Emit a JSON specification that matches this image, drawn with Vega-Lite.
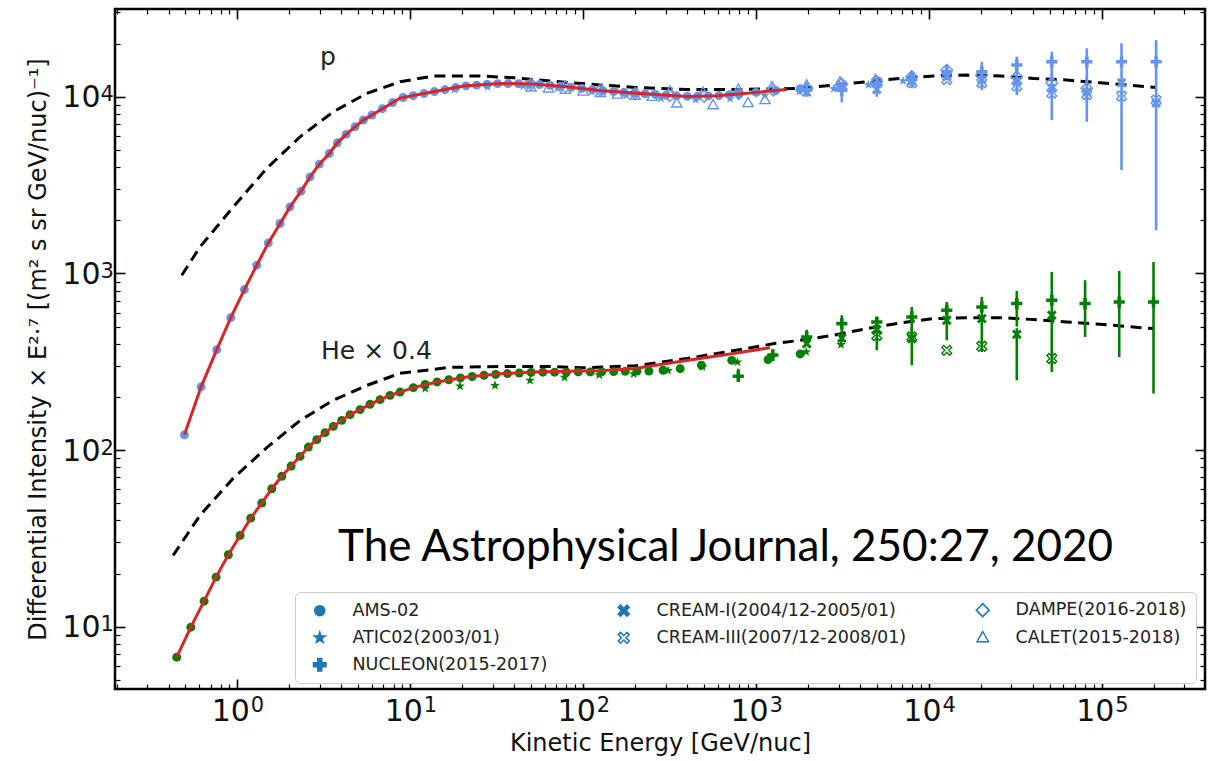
{
  "$schema": "https://vega.github.io/schema/vega-lite/v6.json",
  "width": 1090,
  "height": 680,
  "autosize": {"type": "none"},
  "padding": {"left": 115, "top": 9, "right": 5, "bottom": 72},
  "background": "white",
  "config": {
    "view": {"stroke": "black", "strokeWidth": 2.5},
    "font": "DejaVu Sans",
    "axis": {"domain": false, "grid": false, "labelFont": "DejaVu Sans", "labelColor": "#111111", "tickColor": "black", "labelOverlap": false, "labelFlush": false, "titleFont": "DejaVu Sans", "titleColor": "#111111", "titleFontWeight": "normal"}
  },
  "datasets": {
    "model": [
      {"species": "p", "E": 0.477, "I": 977}, {"species": "p", "E": 0.608, "I": 1413}, {"species": "p", "E": 0.948, "I": 2381},
      {"species": "p", "E": 1.479, "I": 3930}, {"species": "p", "E": 2.305, "I": 5937}, {"species": "p", "E": 3.591, "I": 8223},
      {"species": "p", "E": 5.603, "I": 10450}, {"species": "p", "E": 8.73, "I": 12160}, {"species": "p", "E": 13.6, "I": 13100},
      {"species": "p", "E": 26.5, "I": 13100}, {"species": "p", "E": 40, "I": 12800}, {"species": "p", "E": 70, "I": 12200},
      {"species": "p", "E": 120, "I": 11700}, {"species": "p", "E": 200, "I": 11300}, {"species": "p", "E": 400, "I": 11000},
      {"species": "p", "E": 800, "I": 11000}, {"species": "p", "E": 1800, "I": 11160}, {"species": "p", "E": 2800, "I": 11640},
      {"species": "p", "E": 4370, "I": 12160}, {"species": "p", "E": 6800, "I": 12710}, {"species": "p", "E": 10600, "I": 13100},
      {"species": "p", "E": 16540, "I": 13270}, {"species": "p", "E": 25760, "I": 13100}, {"species": "p", "E": 40200, "I": 12710},
      {"species": "p", "E": 62700, "I": 12440}, {"species": "p", "E": 97700, "I": 12000}, {"species": "p", "E": 206000, "I": 11300},
      {"species": "He", "E": 0.4247, "I": 25.3}, {"species": "He", "E": 0.608, "I": 42.7}, {"species": "He", "E": 0.944, "I": 69.1},
      {"species": "He", "E": 1.485, "I": 103.6}, {"species": "He", "E": 2.305, "I": 147}, {"species": "He", "E": 3.577, "I": 191},
      {"species": "He", "E": 5.626, "I": 232.6}, {"species": "He", "E": 8.73, "I": 272}, {"species": "He", "E": 17, "I": 294},
      {"species": "He", "E": 33, "I": 297}, {"species": "He", "E": 64.4, "I": 297}, {"species": "He", "E": 100, "I": 292},
      {"species": "He", "E": 200, "I": 300}, {"species": "He", "E": 400, "I": 330}, {"species": "He", "E": 800, "I": 370},
      {"species": "He", "E": 1300, "I": 402}, {"species": "He", "E": 1800, "I": 418}, {"species": "He", "E": 2800, "I": 447},
      {"species": "He", "E": 4370, "I": 487}, {"species": "He", "E": 6800, "I": 524}, {"species": "He", "E": 10600, "I": 555},
      {"species": "He", "E": 16540, "I": 562}, {"species": "He", "E": 25760, "I": 562}, {"species": "He", "E": 40200, "I": 548},
      {"species": "He", "E": 62700, "I": 531}, {"species": "He", "E": 97700, "I": 515}, {"species": "He", "E": 200000, "I": 487}
    ],
    "fit": [
      {"species": "p", "E": 0.494, "I": 122}, {"species": "p", "E": 0.617, "I": 228}, {"species": "p", "E": 0.76, "I": 370},
      {"species": "p", "E": 0.916, "I": 562}, {"species": "p", "E": 1.098, "I": 810}, {"species": "p", "E": 1.295, "I": 1113},
      {"species": "p", "E": 1.511, "I": 1489}, {"species": "p", "E": 1.766, "I": 1917}, {"species": "p", "E": 2.018, "I": 2381},
      {"species": "p", "E": 2.335, "I": 2922}, {"species": "p", "E": 2.634, "I": 3521}, {"species": "p", "E": 2.981, "I": 4157},
      {"species": "p", "E": 3.405, "I": 4778}, {"species": "p", "E": 3.788, "I": 5488}, {"species": "p", "E": 4.254, "I": 6124},
      {"species": "p", "E": 4.796, "I": 6761}, {"species": "p", "E": 5.356, "I": 7380}, {"species": "p", "E": 6.5, "I": 8260},
      {"species": "p", "E": 8.73, "I": 9830}, {"species": "p", "E": 13.6, "I": 10670}, {"species": "p", "E": 20.3, "I": 11500},
      {"species": "p", "E": 33, "I": 11900}, {"species": "p", "E": 51.5, "I": 11800}, {"species": "p", "E": 80, "I": 11400},
      {"species": "p", "E": 125, "I": 10850}, {"species": "p", "E": 195, "I": 10500}, {"species": "p", "E": 304, "I": 10200},
      {"species": "p", "E": 400, "I": 10050}, {"species": "p", "E": 600, "I": 10150}, {"species": "p", "E": 920, "I": 10500},
      {"species": "p", "E": 1500, "I": 11000},
      {"species": "He", "E": 0.446, "I": 6.72}, {"species": "He", "E": 0.538, "I": 9.94}, {"species": "He", "E": 0.642, "I": 13.95},
      {"species": "He", "E": 0.753, "I": 19.08}, {"species": "He", "E": 0.887, "I": 25.56}, {"species": "He", "E": 1.037, "I": 32.87},
      {"species": "He", "E": 1.195, "I": 41.18}, {"species": "He", "E": 1.384, "I": 50.1}, {"species": "He", "E": 1.581, "I": 60.4},
      {"species": "He", "E": 1.807, "I": 71.0}, {"species": "He", "E": 2.045, "I": 81.2}, {"species": "He", "E": 2.305, "I": 92.1},
      {"species": "He", "E": 2.574, "I": 104}, {"species": "He", "E": 2.879, "I": 114.5}, {"species": "He", "E": 3.216, "I": 125.5},
      {"species": "He", "E": 3.591, "I": 136.2}, {"species": "He", "E": 4.016, "I": 147.3}, {"species": "He", "E": 4.486, "I": 158.7},
      {"species": "He", "E": 5.126, "I": 169.4}, {"species": "He", "E": 5.855, "I": 181.5}, {"species": "He", "E": 6.69, "I": 193},
      {"species": "He", "E": 7.64, "I": 204}, {"species": "He", "E": 8.73, "I": 213}, {"species": "He", "E": 10.42, "I": 225.7},
      {"species": "He", "E": 14.3, "I": 243}, {"species": "He", "E": 21.2, "I": 259}, {"species": "He", "E": 33, "I": 270},
      {"species": "He", "E": 51.5, "I": 277}, {"species": "He", "E": 80, "I": 279}, {"species": "He", "E": 125, "I": 281},
      {"species": "He", "E": 195, "I": 289}, {"species": "He", "E": 304, "I": 309}, {"species": "He", "E": 474, "I": 330},
      {"species": "He", "E": 739, "I": 352}, {"species": "He", "E": 1205, "I": 380}
    ],
    "obs": [
      {"species": "p", "exp": "AMS-02", "E": 0.494, "I": 122}, {"species": "p", "exp": "AMS-02", "E": 0.617, "I": 228},
      {"species": "p", "exp": "AMS-02", "E": 0.76, "I": 370}, {"species": "p", "exp": "AMS-02", "E": 0.916, "I": 562},
      {"species": "p", "exp": "AMS-02", "E": 1.098, "I": 810}, {"species": "p", "exp": "AMS-02", "E": 1.295, "I": 1113},
      {"species": "p", "exp": "AMS-02", "E": 1.511, "I": 1489}, {"species": "p", "exp": "AMS-02", "E": 1.766, "I": 1917},
      {"species": "p", "exp": "AMS-02", "E": 2.018, "I": 2381}, {"species": "p", "exp": "AMS-02", "E": 2.335, "I": 2922},
      {"species": "p", "exp": "AMS-02", "E": 2.634, "I": 3521}, {"species": "p", "exp": "AMS-02", "E": 2.981, "I": 4157},
      {"species": "p", "exp": "AMS-02", "E": 3.405, "I": 4778}, {"species": "p", "exp": "AMS-02", "E": 3.788, "I": 5488},
      {"species": "p", "exp": "AMS-02", "E": 4.254, "I": 6124}, {"species": "p", "exp": "AMS-02", "E": 4.796, "I": 6761},
      {"species": "p", "exp": "AMS-02", "E": 5.356, "I": 7380}, {"species": "p", "exp": "AMS-02", "E": 6.0, "I": 7885},
      {"species": "p", "exp": "AMS-02", "E": 6.9, "I": 8564}, {"species": "p", "exp": "AMS-02", "E": 7.9, "I": 9270},
      {"species": "p", "exp": "AMS-02", "E": 9.1, "I": 9906}, {"species": "p", "exp": "AMS-02", "E": 10.4, "I": 10155},
      {"species": "p", "exp": "AMS-02", "E": 12, "I": 10425}, {"species": "p", "exp": "AMS-02", "E": 13.8, "I": 10700},
      {"species": "p", "exp": "AMS-02", "E": 15.9, "I": 10990}, {"species": "p", "exp": "AMS-02", "E": 18.3, "I": 11280},
      {"species": "p", "exp": "AMS-02", "E": 21, "I": 11530}, {"species": "p", "exp": "AMS-02", "E": 24.2, "I": 11640},
      {"species": "p", "exp": "AMS-02", "E": 27.8, "I": 11760}, {"species": "p", "exp": "AMS-02", "E": 32, "I": 11870},
      {"species": "p", "exp": "AMS-02", "E": 36.8, "I": 11875}, {"species": "p", "exp": "AMS-02", "E": 42.3, "I": 11850},
      {"species": "p", "exp": "AMS-02", "E": 48.7, "I": 11815}, {"species": "p", "exp": "AMS-02", "E": 56, "I": 11730},
      {"species": "p", "exp": "AMS-02", "E": 64.4, "I": 11600}, {"species": "p", "exp": "AMS-02", "E": 74, "I": 11480},
      {"species": "p", "exp": "AMS-02", "E": 85, "I": 11320}, {"species": "p", "exp": "AMS-02", "E": 98, "I": 11150},
      {"species": "p", "exp": "AMS-02", "E": 113, "I": 10970}, {"species": "p", "exp": "AMS-02", "E": 130, "I": 10820},
      {"species": "p", "exp": "AMS-02", "E": 150, "I": 10700}, {"species": "p", "exp": "AMS-02", "E": 172, "I": 10600},
      {"species": "p", "exp": "AMS-02", "E": 198, "I": 10490}, {"species": "p", "exp": "AMS-02", "E": 228, "I": 10400},
      {"species": "p", "exp": "AMS-02", "E": 262, "I": 10300}, {"species": "p", "exp": "AMS-02", "E": 302, "I": 10205},
      {"species": "p", "exp": "AMS-02", "E": 347, "I": 10130}, {"species": "p", "exp": "AMS-02", "E": 400, "I": 10050},
      {"species": "p", "exp": "AMS-02", "E": 460, "I": 10085}, {"species": "p", "exp": "AMS-02", "E": 530, "I": 10120},
      {"species": "p", "exp": "AMS-02", "E": 610, "I": 10160}, {"species": "p", "exp": "AMS-02", "E": 700, "I": 10275},
      {"species": "p", "exp": "AMS-02", "E": 800, "I": 10380}, {"species": "p", "exp": "AMS-02", "E": 1000, "I": 10580},
      {"species": "p", "exp": "AMS-02", "E": 1300, "I": 10850}, {"species": "p", "exp": "AMS-02", "E": 1800, "I": 11100},

      {"species": "p", "exp": "ATIC02(2003/01)", "E": 18, "I": 11000}, {"species": "p", "exp": "ATIC02(2003/01)", "E": 28, "I": 11400},
      {"species": "p", "exp": "ATIC02(2003/01)", "E": 45, "I": 11500}, {"species": "p", "exp": "ATIC02(2003/01)", "E": 71, "I": 11200},
      {"species": "p", "exp": "ATIC02(2003/01)", "E": 112, "I": 10700}, {"species": "p", "exp": "ATIC02(2003/01)", "E": 178, "I": 10200},
      {"species": "p", "exp": "ATIC02(2003/01)", "E": 282, "I": 9800}, {"species": "p", "exp": "ATIC02(2003/01)", "E": 447, "I": 9650},
      {"species": "p", "exp": "ATIC02(2003/01)", "E": 708, "I": 9800}, {"species": "p", "exp": "ATIC02(2003/01)", "E": 1122, "I": 10200},
      {"species": "p", "exp": "ATIC02(2003/01)", "E": 1778, "I": 10700}, {"species": "p", "exp": "ATIC02(2003/01)", "E": 2818, "I": 11100},
      {"species": "p", "exp": "ATIC02(2003/01)", "E": 4467, "I": 11700}, {"species": "p", "exp": "ATIC02(2003/01)", "E": 7079, "I": 12300},

      {"species": "p", "exp": "NUCLEON(2015-2017)", "E": 1963, "I": 10900, "lo": 10000, "hi": 11800},
      {"species": "p", "exp": "NUCLEON(2015-2017)", "E": 3133, "I": 10900, "lo": 9300, "hi": 12000},
      {"species": "p", "exp": "NUCLEON(2015-2017)", "E": 4993, "I": 11600, "lo": 10000, "hi": 12800},
      {"species": "p", "exp": "NUCLEON(2015-2017)", "E": 7960, "I": 12700, "lo": 11200, "hi": 14000},
      {"species": "p", "exp": "NUCLEON(2015-2017)", "E": 12680, "I": 13850, "lo": 12400, "hi": 15100},
      {"species": "p", "exp": "NUCLEON(2015-2017)", "E": 20220, "I": 13850, "lo": 10900, "hi": 15780},
      {"species": "p", "exp": "NUCLEON(2015-2017)", "E": 32220, "I": 15120, "lo": 10220, "hi": 16860},
      {"species": "p", "exp": "NUCLEON(2015-2017)", "E": 51350, "I": 15780, "lo": 7380, "hi": 17990},
      {"species": "p", "exp": "NUCLEON(2015-2017)", "E": 81850, "I": 15780, "lo": 7216, "hi": 18800},
      {"species": "p", "exp": "NUCLEON(2015-2017)", "E": 130000, "I": 15780, "lo": 3846, "hi": 20070},
      {"species": "p", "exp": "NUCLEON(2015-2017)", "E": 206000, "I": 15780, "lo": 1758, "hi": 20940},

      {"species": "p", "exp": "CREAM-I(2004/12-2005/01)", "E": 1963, "I": 10600}, {"species": "p", "exp": "CREAM-I(2004/12-2005/01)", "E": 3133, "I": 11300},
      {"species": "p", "exp": "CREAM-I(2004/12-2005/01)", "E": 4993, "I": 11000}, {"species": "p", "exp": "CREAM-I(2004/12-2005/01)", "E": 7960, "I": 12300},
      {"species": "p", "exp": "CREAM-I(2004/12-2005/01)", "E": 12680, "I": 13000}, {"species": "p", "exp": "CREAM-I(2004/12-2005/01)", "E": 20220, "I": 12500},
      {"species": "p", "exp": "CREAM-I(2004/12-2005/01)", "E": 32220, "I": 12200}, {"species": "p", "exp": "CREAM-I(2004/12-2005/01)", "E": 51350, "I": 11200},
      {"species": "p", "exp": "CREAM-I(2004/12-2005/01)", "E": 81850, "I": 10670}, {"species": "p", "exp": "CREAM-I(2004/12-2005/01)", "E": 130000, "I": 12000},
      {"species": "p", "exp": "CREAM-I(2004/12-2005/01)", "E": 206000, "I": 9200},

      {"species": "p", "exp": "CREAM-III(2007/12-2008/01)", "E": 3133, "I": 11500}, {"species": "p", "exp": "CREAM-III(2007/12-2008/01)", "E": 4993, "I": 12100},
      {"species": "p", "exp": "CREAM-III(2007/12-2008/01)", "E": 7960, "I": 12000}, {"species": "p", "exp": "CREAM-III(2007/12-2008/01)", "E": 12680, "I": 12500},
      {"species": "p", "exp": "CREAM-III(2007/12-2008/01)", "E": 20220, "I": 12000}, {"species": "p", "exp": "CREAM-III(2007/12-2008/01)", "E": 32220, "I": 11500},
      {"species": "p", "exp": "CREAM-III(2007/12-2008/01)", "E": 51350, "I": 10500}, {"species": "p", "exp": "CREAM-III(2007/12-2008/01)", "E": 81850, "I": 10300},
      {"species": "p", "exp": "CREAM-III(2007/12-2008/01)", "E": 130000, "I": 10100}, {"species": "p", "exp": "CREAM-III(2007/12-2008/01)", "E": 206000, "I": 9580},

      {"species": "p", "exp": "DAMPE(2016-2018)", "E": 50, "I": 11800}, {"species": "p", "exp": "DAMPE(2016-2018)", "E": 79, "I": 11400},
      {"species": "p", "exp": "DAMPE(2016-2018)", "E": 126, "I": 10900}, {"species": "p", "exp": "DAMPE(2016-2018)", "E": 200, "I": 10450},
      {"species": "p", "exp": "DAMPE(2016-2018)", "E": 316, "I": 10150}, {"species": "p", "exp": "DAMPE(2016-2018)", "E": 501, "I": 10050},
      {"species": "p", "exp": "DAMPE(2016-2018)", "E": 794, "I": 10400}, {"species": "p", "exp": "DAMPE(2016-2018)", "E": 1259, "I": 10900},
      {"species": "p", "exp": "DAMPE(2016-2018)", "E": 1963, "I": 11160}, {"species": "p", "exp": "DAMPE(2016-2018)", "E": 3133, "I": 11800},
      {"species": "p", "exp": "DAMPE(2016-2018)", "E": 4993, "I": 12200}, {"species": "p", "exp": "DAMPE(2016-2018)", "E": 7960, "I": 13000},
      {"species": "p", "exp": "DAMPE(2016-2018)", "E": 12680, "I": 14170, "lo": 13200, "hi": 15100},
      {"species": "p", "exp": "DAMPE(2016-2018)", "E": 20220, "I": 13270, "lo": 12200, "hi": 14400},
      {"species": "p", "exp": "DAMPE(2016-2018)", "E": 32220, "I": 12980, "lo": 11600, "hi": 14300},
      {"species": "p", "exp": "DAMPE(2016-2018)", "E": 51350, "I": 11960, "lo": 10300, "hi": 13600},
      {"species": "p", "exp": "DAMPE(2016-2018)", "E": 81850, "I": 11160, "lo": 9300, "hi": 13000},

      {"species": "p", "exp": "CALET(2015-2018)", "E": 50, "I": 11300}, {"species": "p", "exp": "CALET(2015-2018)", "E": 63, "I": 11150},
      {"species": "p", "exp": "CALET(2015-2018)", "E": 79, "I": 10950}, {"species": "p", "exp": "CALET(2015-2018)", "E": 100, "I": 10700},
      {"species": "p", "exp": "CALET(2015-2018)", "E": 126, "I": 10500}, {"species": "p", "exp": "CALET(2015-2018)", "E": 158, "I": 10300},
      {"species": "p", "exp": "CALET(2015-2018)", "E": 200, "I": 10150}, {"species": "p", "exp": "CALET(2015-2018)", "E": 251, "I": 10000},
      {"species": "p", "exp": "CALET(2015-2018)", "E": 318, "I": 10700}, {"species": "p", "exp": "CALET(2015-2018)", "E": 348, "I": 9175},
      {"species": "p", "exp": "CALET(2015-2018)", "E": 494, "I": 10560}, {"species": "p", "exp": "CALET(2015-2018)", "E": 564, "I": 8970},
      {"species": "p", "exp": "CALET(2015-2018)", "E": 790, "I": 10980}, {"species": "p", "exp": "CALET(2015-2018)", "E": 899, "I": 9210},
      {"species": "p", "exp": "CALET(2015-2018)", "E": 1127, "I": 9580}, {"species": "p", "exp": "CALET(2015-2018)", "E": 1237, "I": 11350},
      {"species": "p", "exp": "CALET(2015-2018)", "E": 1963, "I": 11600}, {"species": "p", "exp": "CALET(2015-2018)", "E": 3060, "I": 12100},
      {"species": "p", "exp": "CALET(2015-2018)", "E": 4900, "I": 12440}, {"species": "p", "exp": "CALET(2015-2018)", "E": 7900, "I": 13000},

      {"species": "He", "exp": "AMS-02", "E": 0.446, "I": 6.72}, {"species": "He", "exp": "AMS-02", "E": 0.538, "I": 9.94},
      {"species": "He", "exp": "AMS-02", "E": 0.642, "I": 13.95}, {"species": "He", "exp": "AMS-02", "E": 0.753, "I": 19.08},
      {"species": "He", "exp": "AMS-02", "E": 0.887, "I": 25.56}, {"species": "He", "exp": "AMS-02", "E": 1.037, "I": 32.87},
      {"species": "He", "exp": "AMS-02", "E": 1.195, "I": 41.18}, {"species": "He", "exp": "AMS-02", "E": 1.384, "I": 50.1},
      {"species": "He", "exp": "AMS-02", "E": 1.581, "I": 60.4}, {"species": "He", "exp": "AMS-02", "E": 1.807, "I": 71.0},
      {"species": "He", "exp": "AMS-02", "E": 2.045, "I": 81.2}, {"species": "He", "exp": "AMS-02", "E": 2.305, "I": 92.1},
      {"species": "He", "exp": "AMS-02", "E": 2.574, "I": 104}, {"species": "He", "exp": "AMS-02", "E": 2.879, "I": 114.5},
      {"species": "He", "exp": "AMS-02", "E": 3.216, "I": 125.5}, {"species": "He", "exp": "AMS-02", "E": 3.591, "I": 136.2},
      {"species": "He", "exp": "AMS-02", "E": 4.016, "I": 147.3}, {"species": "He", "exp": "AMS-02", "E": 4.486, "I": 158.7},
      {"species": "He", "exp": "AMS-02", "E": 5.126, "I": 169.4}, {"species": "He", "exp": "AMS-02", "E": 5.855, "I": 181.5},
      {"species": "He", "exp": "AMS-02", "E": 6.69, "I": 193}, {"species": "He", "exp": "AMS-02", "E": 7.64, "I": 204},
      {"species": "He", "exp": "AMS-02", "E": 8.73, "I": 213}, {"species": "He", "exp": "AMS-02", "E": 10.42, "I": 225.7},
      {"species": "He", "exp": "AMS-02", "E": 12.2, "I": 235}, {"species": "He", "exp": "AMS-02", "E": 14.3, "I": 243},
      {"species": "He", "exp": "AMS-02", "E": 16.7, "I": 250}, {"species": "He", "exp": "AMS-02", "E": 19.5, "I": 256},
      {"species": "He", "exp": "AMS-02", "E": 22.8, "I": 261}, {"species": "He", "exp": "AMS-02", "E": 26.7, "I": 265},
      {"species": "He", "exp": "AMS-02", "E": 31.2, "I": 268}, {"species": "He", "exp": "AMS-02", "E": 36.5, "I": 271},
      {"species": "He", "exp": "AMS-02", "E": 42.7, "I": 273}, {"species": "He", "exp": "AMS-02", "E": 50, "I": 275},
      {"species": "He", "exp": "AMS-02", "E": 58.5, "I": 276}, {"species": "He", "exp": "AMS-02", "E": 68.4, "I": 276},
      {"species": "He", "exp": "AMS-02", "E": 80, "I": 276}, {"species": "He", "exp": "AMS-02", "E": 93.6, "I": 277},
      {"species": "He", "exp": "AMS-02", "E": 110, "I": 277}, {"species": "He", "exp": "AMS-02", "E": 128, "I": 277},
      {"species": "He", "exp": "AMS-02", "E": 150, "I": 278}, {"species": "He", "exp": "AMS-02", "E": 175, "I": 279},
      {"species": "He", "exp": "AMS-02", "E": 205, "I": 280}, {"species": "He", "exp": "AMS-02", "E": 240, "I": 280},
      {"species": "He", "exp": "AMS-02", "E": 290, "I": 283}, {"species": "He", "exp": "AMS-02", "E": 364, "I": 289},
      {"species": "He", "exp": "AMS-02", "E": 483, "I": 302}, {"species": "He", "exp": "AMS-02", "E": 723, "I": 322},
      {"species": "He", "exp": "AMS-02", "E": 1174, "I": 325}, {"species": "He", "exp": "AMS-02", "E": 1800, "I": 350},

      {"species": "He", "exp": "ATIC02(2003/01)", "E": 12.2, "I": 223}, {"species": "He", "exp": "ATIC02(2003/01)", "E": 19.4, "I": 230},
      {"species": "He", "exp": "ATIC02(2003/01)", "E": 30.9, "I": 232}, {"species": "He", "exp": "ATIC02(2003/01)", "E": 49.3, "I": 248},
      {"species": "He", "exp": "ATIC02(2003/01)", "E": 78, "I": 258}, {"species": "He", "exp": "ATIC02(2003/01)", "E": 124, "I": 266},
      {"species": "He", "exp": "ATIC02(2003/01)", "E": 196, "I": 270}, {"species": "He", "exp": "ATIC02(2003/01)", "E": 310, "I": 282},
      {"species": "He", "exp": "ATIC02(2003/01)", "E": 490, "I": 296}, {"species": "He", "exp": "ATIC02(2003/01)", "E": 780, "I": 315},
      {"species": "He", "exp": "ATIC02(2003/01)", "E": 1230, "I": 335}, {"species": "He", "exp": "ATIC02(2003/01)", "E": 1950, "I": 360},
      {"species": "He", "exp": "ATIC02(2003/01)", "E": 3100, "I": 395},

      {"species": "He", "exp": "NUCLEON(2015-2017)", "E": 789, "I": 262, "lo": 243, "hi": 289},
      {"species": "He", "exp": "NUCLEON(2015-2017)", "E": 1250, "I": 345, "lo": 320, "hi": 372},
      {"species": "He", "exp": "NUCLEON(2015-2017)", "E": 1963, "I": 437, "lo": 400, "hi": 480},
      {"species": "He", "exp": "NUCLEON(2015-2017)", "E": 3133, "I": 520, "lo": 409, "hi": 580},
      {"species": "He", "exp": "NUCLEON(2015-2017)", "E": 4993, "I": 531, "lo": 367, "hi": 567},
      {"species": "He", "exp": "NUCLEON(2015-2017)", "E": 7960, "I": 567, "lo": 460, "hi": 646},
      {"species": "He", "exp": "NUCLEON(2015-2017)", "E": 12680, "I": 619, "lo": 418, "hi": 689},
      {"species": "He", "exp": "NUCLEON(2015-2017)", "E": 20220, "I": 646, "lo": 359, "hi": 736},
      {"species": "He", "exp": "NUCLEON(2015-2017)", "E": 32220, "I": 675, "lo": 500, "hi": 796},
      {"species": "He", "exp": "NUCLEON(2015-2017)", "E": 51350, "I": 705, "lo": 277, "hi": 1020},
      {"species": "He", "exp": "NUCLEON(2015-2017)", "E": 80000, "I": 675, "lo": 437, "hi": 915},
      {"species": "He", "exp": "NUCLEON(2015-2017)", "E": 126000, "I": 689, "lo": 336, "hi": 1033},
      {"species": "He", "exp": "NUCLEON(2015-2017)", "E": 199000, "I": 689, "lo": 209, "hi": 1162},

      {"species": "He", "exp": "CREAM-I(2004/12-2005/01)", "E": 1963, "I": 400}, {"species": "He", "exp": "CREAM-I(2004/12-2005/01)", "E": 3133, "I": 430},
      {"species": "He", "exp": "CREAM-I(2004/12-2005/01)", "E": 4993, "I": 480},
      {"species": "He", "exp": "CREAM-I(2004/12-2005/01)", "E": 7960, "I": 427, "lo": 302, "hi": 498},
      {"species": "He", "exp": "CREAM-I(2004/12-2005/01)", "E": 12680, "I": 543}, {"species": "He", "exp": "CREAM-I(2004/12-2005/01)", "E": 20220, "I": 555},
      {"species": "He", "exp": "CREAM-I(2004/12-2005/01)", "E": 32220, "I": 452, "lo": 248, "hi": 490},
      {"species": "He", "exp": "CREAM-I(2004/12-2005/01)", "E": 51350, "I": 580},

      {"species": "He", "exp": "CREAM-III(2007/12-2008/01)", "E": 4993, "I": 445}, {"species": "He", "exp": "CREAM-III(2007/12-2008/01)", "E": 7960, "I": 437},
      {"species": "He", "exp": "CREAM-III(2007/12-2008/01)", "E": 12680, "I": 367}, {"species": "He", "exp": "CREAM-III(2007/12-2008/01)", "E": 20220, "I": 387},
      {"species": "He", "exp": "CREAM-III(2007/12-2008/01)", "E": 51350, "I": 330}
    ],
    "notes": [
      {"text": "p", "E": 3.008, "I": 15120, "kind": "small"},
      {"text": "He × 0.4", "E": 3.049, "I": 329.5, "kind": "small"},
      {"text": "The Astrophysical Journal, 250:27, 2020", "E": 3.823, "I": 23.7, "kind": "big"}
    ]
  },
  "layer": [
    {
      "data": {"name": "model"},
      "mark": {"type": "line", "color": "black", "strokeWidth": 3, "strokeDash": [11, 6.5], "clip": true},
      "encoding": {
        "x": {"field": "E", "type": "quantitative", "scale": {"type": "log", "domain": [0.196, 395000], "nice": false},
          "axis": {"orient": "bottom", "values": [1, 10, 100, 1000, 10000, 100000], "labelExpr": "'10'", "ticks": false, "labelFontSize": 30, "labelPadding": 7, "labelOffset": -7,
            "title": "Kinetic Energy [GeV/nuc]", "titleFontSize": 24, "titlePadding": 5}},
        "y": {"field": "I", "type": "quantitative", "scale": {"type": "log", "domain": [4.44, 31400], "nice": false},
          "axis": {"orient": "left", "values": [10, 100, 1000, 10000], "labelExpr": "'10'", "ticks": false, "labelFontSize": 30, "labelPadding": 15, "labelAlign": "right", "labelBaseline": "middle", "labelOffset": 1,
            "title": "Differential Intensity × E²·⁷ [(m² s sr GeV/nuc)⁻¹]", "titleFontSize": 24, "titlePadding": 11}},
        "detail": {"field": "species", "type": "nominal"}
      }
    },
    {
      "data": {"name": "obs"},
      "transform": [{"filter": "isValid(datum.lo)"}],
      "mark": {"type": "rule", "strokeWidth": 2.6, "clip": true},
      "encoding": {
        "x": {"field": "E", "type": "quantitative",
          "axis": {"orient": "bottom", "values": [1, 10, 100, 1000, 10000, 100000], "labelExpr": "'' + round(log(datum.value) / LN10)", "ticks": false, "labelFontSize": 21, "labelPadding": 5.5, "labelAlign": "left", "labelOffset": 13, "title": null}},
        "y": {"field": "lo", "type": "quantitative",
          "axis": {"orient": "left", "values": [10, 100, 1000, 10000], "labelExpr": "'' + round(log(datum.value) / LN10)", "ticks": false, "labelFontSize": 21, "labelPadding": 15, "labelAlign": "left", "labelBaseline": "top", "labelOffset": -13, "title": null}},
        "y2": {"field": "hi"},
        "color": {"field": "species", "type": "nominal", "scale": {"domain": ["p", "He"], "range": ["#6495ED", "#008000"]}, "legend": null}
      }
    },
    {
      "data": {"name": "obs"},
      "transform": [{"filter": "indexof(['AMS-02','ATIC02(2003/01)','NUCLEON(2015-2017)','CREAM-I(2004/12-2005/01)'], datum.exp) >= 0"}],
      "mark": {"type": "point", "filled": true, "size": 80, "opacity": 1, "strokeWidth": 0, "clip": true},
      "encoding": {
        "x": {"field": "E", "type": "quantitative",
          "axis": {"orient": "bottom", "values": [1, 10, 100, 1000, 10000, 100000], "labels": false, "tickSize": -10, "tickWidth": 1.6, "title": null}},
        "y": {"field": "I", "type": "quantitative",
          "axis": {"orient": "left", "values": [10, 100, 1000, 10000], "labels": false, "tickSize": -10, "tickWidth": 1.6, "title": null}},
        "color": {"field": "species", "type": "nominal", "legend": null},
        "shape": {"field": "exp", "type": "nominal",
          "scale": {
            "domain": ["AMS-02", "ATIC02(2003/01)", "NUCLEON(2015-2017)", "CREAM-I(2004/12-2005/01)", "CREAM-III(2007/12-2008/01)", "DAMPE(2016-2018)", "CALET(2015-2018)"],
            "range": [
              "circle",
              "M0,-1.15L0.27,-0.37L1.09,-0.36L0.44,0.14L0.68,0.93L0,0.46L-0.68,0.93L-0.44,0.14L-1.09,-0.36L-0.27,-0.37Z",
              "M-0.4,-1.25L0.4,-1.25L0.4,-0.4L1.25,-0.4L1.25,0.4L0.4,0.4L0.4,1.25L-0.4,1.25L-0.4,0.4L-1.25,0.4L-1.25,-0.4L-0.4,-0.4Z",
              "M-1.1,-0.65L-0.65,-1.1L0,-0.45L0.65,-1.1L1.1,-0.65L0.45,0L1.1,0.65L0.65,1.1L0,0.45L-0.65,1.1L-1.1,0.65L-0.45,0Z",
              "M-1.1,-0.65L-0.65,-1.1L0,-0.45L0.65,-1.1L1.1,-0.65L0.45,0L1.1,0.65L0.65,1.1L0,0.45L-0.65,1.1L-1.1,0.65L-0.45,0Z",
              "M0,-1.3L1.3,0L0,1.3L-1.3,0Z",
              "M0,-1.25L1.15,0.8L-1.15,0.8Z"
            ]
          },
          "legend": {
            "orient": "none", "legendX": 180, "legendY": 583, "columns": 3, "title": null,
            "values": ["AMS-02", "ATIC02(2003/01)", "CALET(2015-2018)", "CREAM-I(2004/12-2005/01)", "CREAM-III(2007/12-2008/01)", "NUCLEON(2015-2017)", "DAMPE(2016-2018)"],
            "labelFont": "DejaVu Sans", "labelFontSize": 17.5, "labelColor": "#222222", "labelLimit": 600,
            "symbolSize": 100, "symbolStrokeWidth": 1.5, "symbolOffset": 7, "labelOffset": 24, "columnPadding": 60, "rowPadding": 8,
            "padding": 9, "strokeColor": "#cccccc", "fillColor": "white", "cornerRadius": 5,
            "symbolStrokeColor": "#1f77b4",
            "symbolFillColor": {"expr": "indexof(['DAMPE(2016-2018)','CREAM-III(2007/12-2008/01)','CALET(2015-2018)'], datum.value) >= 0 ? 'transparent' : '#1f77b4'"}
          }
        }
      }
    },
    {
      "data": {"name": "obs"},
      "transform": [{"filter": "indexof(['CREAM-III(2007/12-2008/01)','DAMPE(2016-2018)','CALET(2015-2018)'], datum.exp) >= 0"}],
      "mark": {"type": "point", "filled": false, "size": 80, "opacity": 1, "strokeWidth": 1.4, "clip": true},
      "encoding": {
        "x": {"field": "E", "type": "quantitative", "axis": null},
        "y": {"field": "I", "type": "quantitative", "axis": null},
        "color": {"field": "species", "type": "nominal", "legend": null},
        "shape": {"field": "exp", "type": "nominal", "legend": null}
      }
    },
    {
      "data": {"name": "fit"},
      "mark": {"type": "line", "color": "#d62728", "strokeWidth": 3, "clip": true},
      "encoding": {
        "x": {"field": "E", "type": "quantitative",
          "axis": {"orient": "bottom", "values": [0.2, 0.3, 0.4, 0.5, 0.6, 0.7, 0.8, 0.9, 2, 3, 4, 5, 6, 7, 8, 9, 20, 30, 40, 50, 60, 70, 80, 90, 200, 300, 400, 500, 600, 700, 800, 900, 2000, 3000, 4000, 5000, 6000, 7000, 8000, 9000, 20000, 30000, 40000, 50000, 60000, 70000, 80000, 90000, 200000, 300000], "labels": false, "tickSize": -5, "tickWidth": 1.2, "title": null}},
        "y": {"field": "I", "type": "quantitative",
          "axis": {"orient": "left", "values": [5, 6, 7, 8, 9, 20, 30, 40, 50, 60, 70, 80, 90, 200, 300, 400, 500, 600, 700, 800, 900, 2000, 3000, 4000, 5000, 6000, 7000, 8000, 9000, 20000, 30000], "labels": false, "tickSize": -5, "tickWidth": 1.2, "title": null}},
        "detail": {"field": "species", "type": "nominal"}
      }
    },
    {
      "data": {"name": "notes"},
      "transform": [{"filter": "datum.kind === 'small'"}],
      "mark": {"type": "text", "align": "left", "baseline": "alphabetic", "font": "DejaVu Sans", "fontSize": 25, "color": "#222222"},
      "encoding": {
        "x": {"field": "E", "type": "quantitative",
          "axis": {"orient": "top", "values": [1, 10, 100, 1000, 10000, 100000], "labels": false, "tickSize": -10, "tickWidth": 1.6, "title": null}},
        "y": {"field": "I", "type": "quantitative",
          "axis": {"orient": "right", "values": [10, 100, 1000, 10000], "labels": false, "tickSize": -10, "tickWidth": 1.6, "title": null}},
        "text": {"field": "text"}
      }
    },
    {
      "data": {"name": "notes"},
      "transform": [{"filter": "datum.kind === 'big'"}],
      "mark": {"type": "text", "align": "left", "baseline": "alphabetic", "font": "Lato", "fontSize": 44, "color": "black"},
      "encoding": {
        "x": {"field": "E", "type": "quantitative",
          "axis": {"orient": "top", "values": [0.2, 0.3, 0.4, 0.5, 0.6, 0.7, 0.8, 0.9, 2, 3, 4, 5, 6, 7, 8, 9, 20, 30, 40, 50, 60, 70, 80, 90, 200, 300, 400, 500, 600, 700, 800, 900, 2000, 3000, 4000, 5000, 6000, 7000, 8000, 9000, 20000, 30000, 40000, 50000, 60000, 70000, 80000, 90000, 200000, 300000], "labels": false, "tickSize": -5, "tickWidth": 1.2, "title": null}},
        "y": {"field": "I", "type": "quantitative",
          "axis": {"orient": "right", "values": [5, 6, 7, 8, 9, 20, 30, 40, 50, 60, 70, 80, 90, 200, 300, 400, 500, 600, 700, 800, 900, 2000, 3000, 4000, 5000, 6000, 7000, 8000, 9000, 20000, 30000], "labels": false, "tickSize": -5, "tickWidth": 1.2, "title": null}},
        "text": {"field": "text"}
      }
    }
  ],
  "resolve": {"axis": {"x": "independent", "y": "independent"}},
  "encoding": {}
}
